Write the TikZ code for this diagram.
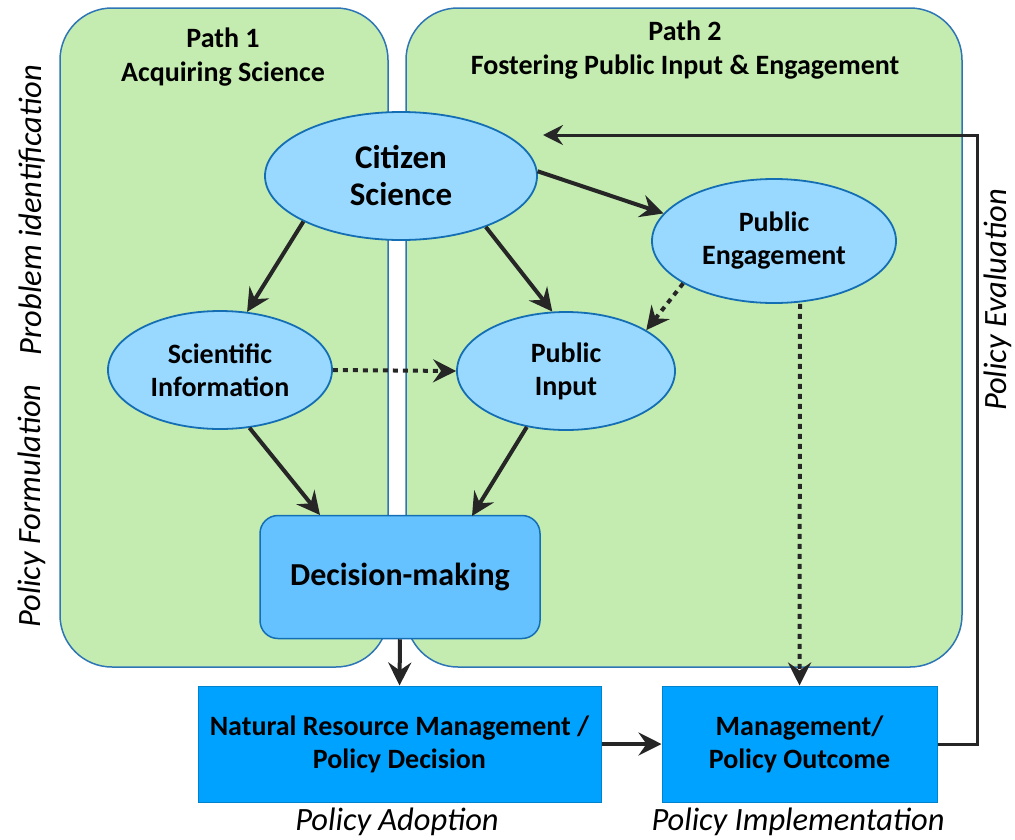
\documentclass[tikz,border=0pt]{standalone}
\usepackage{fontspec}
\setmainfont{Carlito}
\usetikzlibrary{arrows.meta,shapes.geometric}
\definecolor{panelfill}{RGB}{196,236,177}
\definecolor{panelline}{RGB}{46,117,182}
\definecolor{ovalfill}{RGB}{153,217,255}
\definecolor{ovalline}{RGB}{20,110,180}
\definecolor{dmfill}{RGB}{102,194,255}
\definecolor{boxfill}{RGB}{0,162,255}
\definecolor{ink}{RGB}{38,38,38}
\tikzset{
  panel/.style={fill=panelfill,draw=panelline,line width=1.5pt,rounded corners=52pt},
  oval/.style={ellipse,fill=ovalfill,draw=ovalline,line width=1.8pt,inner sep=0pt,align=center,font=\bfseries},
  dmbox/.style={fill=dmfill,draw=ovalline,line width=1.5pt,rounded corners=18pt,inner sep=0pt,align=center,font=\bfseries\fontsize{32}{37}\selectfont},
  stagebox/.style={fill=boxfill,draw=boxfill!80!black,line width=1pt,inner sep=0pt,align=center,font=\bfseries\fontsize{28}{33}\selectfont},
  flow/.style={draw=ink,line width=4pt,-{Stealth[length=23pt,width=23pt,inset=8pt]}},
  hint/.style={flow,dash pattern=on 5pt off 5pt},
  stage/.style={font=\itshape\fontsize{32.5}{36}\selectfont,inner sep=0pt},
  pathtitle/.style={font=\bfseries\fontsize{28}{34}\selectfont,align=center,inner sep=0pt}
}
\begin{document}
\begin{tikzpicture}[x=1pt,y=-1pt]
\useasboundingbox (0,0) rectangle (1015,839);
% two path panels
\draw[panel] (60,8) rectangle (388,667);
\draw[panel] (406,8) rectangle (962,667);
\node[pathtitle] (p1) at (223,57) {Path 1\\Acquiring Science};
\node[pathtitle] (p2) at (685,50) {Path 2\\Fostering Public Input \& Engagement};
% ovals
\node[oval,minimum width=272pt,minimum height=128pt,font=\bfseries\fontsize{33}{37}\selectfont] (cs) at (401,176) {Citizen\\Science};
\node[oval,minimum width=244pt,minimum height=124pt,font=\bfseries\fontsize{28}{33}\selectfont] (pe) at (774,241) {Public\\Engagement};
\node[oval,minimum width=224pt,minimum height=118pt,font=\bfseries\fontsize{28}{33}\selectfont] (si) at (220,370) {Scientific\\Information};
\node[oval,minimum width=218pt,minimum height=118pt,font=\bfseries\fontsize{28}{33}\selectfont] (pi) at (566,371) {Public\\Input};
% decision and outcome boxes
\node[dmbox,minimum width=280pt,minimum height=123pt] (dm) at (400,577) {Decision-making};
\node[stagebox,minimum width=403pt,minimum height=116pt] (nrm) at (399.5,744) {Natural Resource Management /\\Policy Decision};
\node[stagebox,minimum width=275pt,minimum height=116pt] (mpo) at (799.5,744) {Management/\\Policy Outcome};
% stage labels
\node[stage,rotate=90] (l1) at (32,210) {Problem identification};
\node[stage,rotate=90] (l2) at (32,506) {Policy Formulation};
\node[stage,rotate=90] (l3) at (998,300) {Policy Evaluation};
\node[stage] (l4) at (397,822) {Policy Adoption};
\node[stage] (l5) at (798,822) {Policy Implementation};
% connectors
\coordinate (dmin1) at (320,515);
\coordinate (dmin2) at (472,516);
\draw[flow] (cs.205) -- (si.65);
\draw[flow] (cs.329) -- (pi.103);
\draw[flow] (cs.2) -- (pe.166);
\draw[hint] (pe.205) -- (pi.27);
\draw[hint] (si.east) -- (pi.west);
\draw[flow] (si.297) -- (dmin1);
\draw[flow] (pi.235) -- (dmin2);
\draw[flow] (dm.south) -- (nrm.north);
\draw[flow] (nrm.east) -- (mpo.west);
\draw[hint] (pe.south -| 800,0) -- (mpo.north);
\coordinate (fb1) at (977,744);
\coordinate (fb2) at (977,135);
\coordinate (fb3) at (543,135);
\draw[draw=ink,line width=3pt,-{Stealth[length=20pt,width=20pt,inset=7pt]}] (mpo.east) -- (fb1) -- (fb2) -- (fb3);
\end{tikzpicture}
\end{document}
